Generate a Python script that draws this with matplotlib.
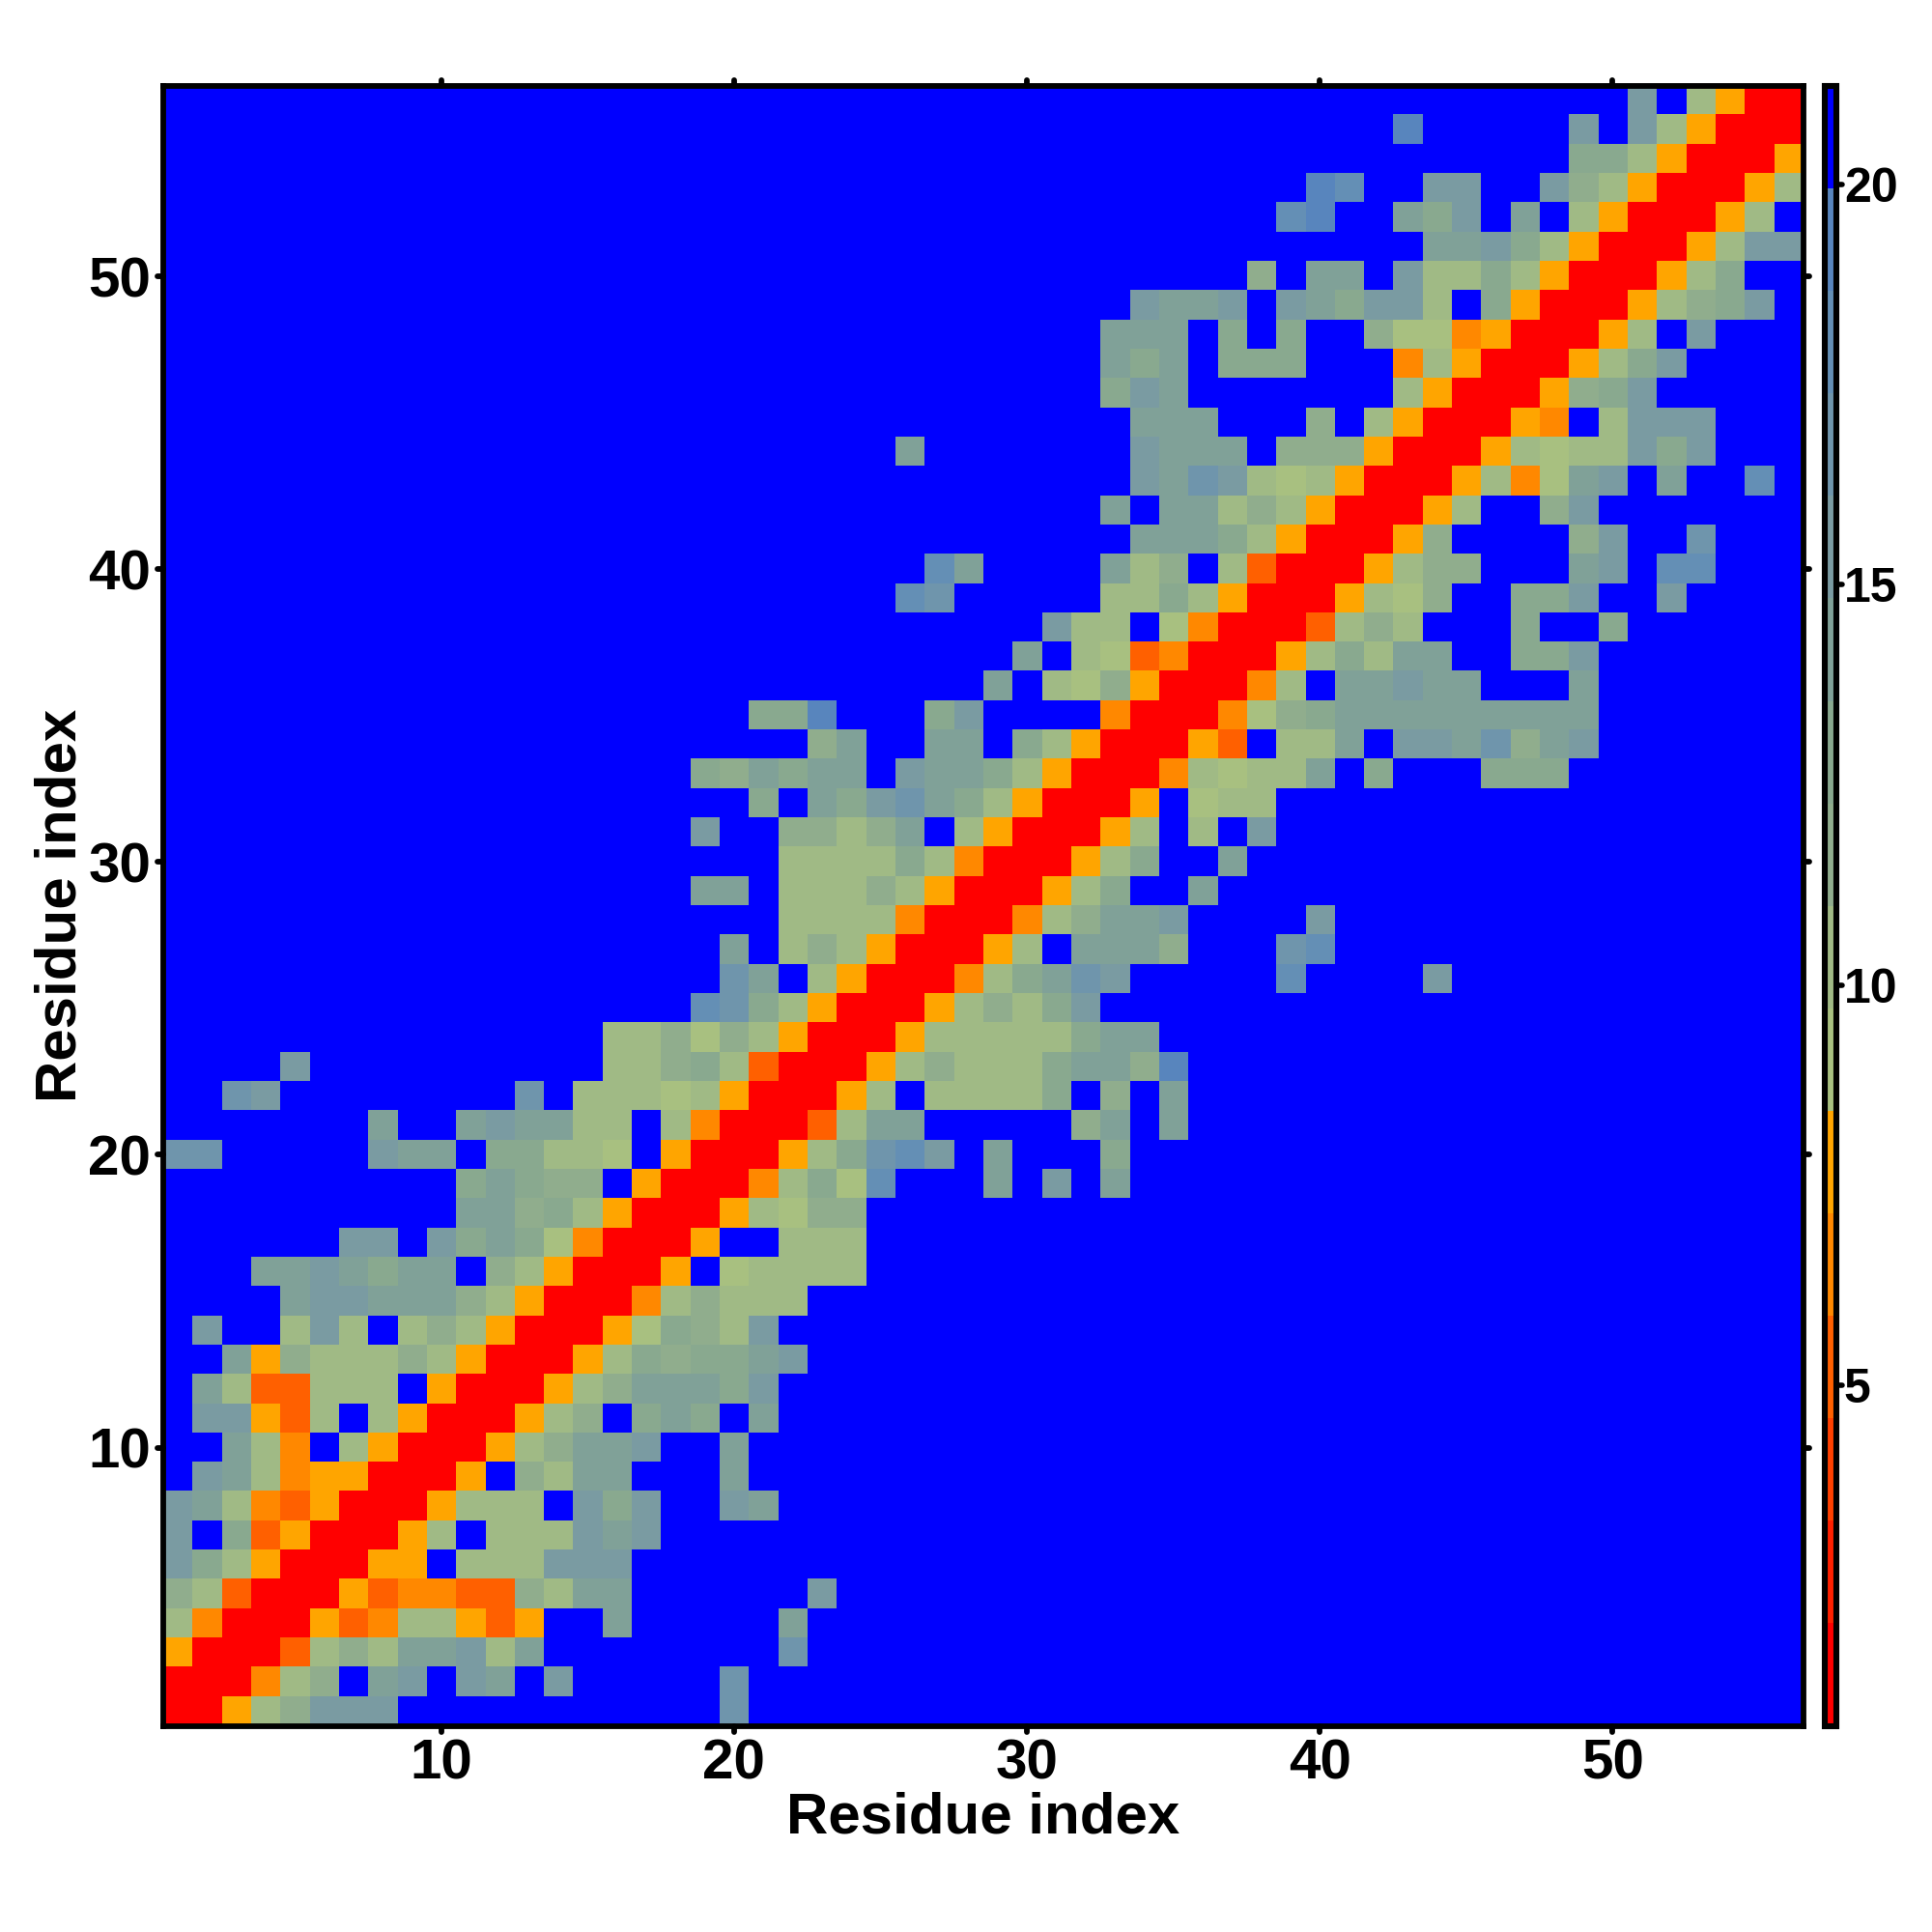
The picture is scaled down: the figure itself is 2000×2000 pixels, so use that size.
import numpy as np
import matplotlib
matplotlib.use("Agg")
import matplotlib.pyplot as plt
from matplotlib.colors import ListedColormap, BoundaryNorm
from matplotlib.markers import MarkerStyle, TICKDOWN, TICKUP, TICKLEFT, TICKRIGHT

plt.rcParams['font.family'] = ['Liberation Sans', 'DejaVu Sans']
plt.rcParams['font.weight'] = 'bold'

N_RES = 56

# colour bar levels, 16 bands
levels = [0.75, 2.03, 3.31, 4.59, 5.87, 7.15, 8.43, 9.71, 10.99, 12.27, 13.55, 14.83, 16.11, 17.39, 18.67, 19.95, 21.23]
band_colors = ['#ff0000', '#ff2000', '#ff4000', '#ff6000', '#ff8800', '#ffa500',
               '#a8c080', '#a0ba85', '#90ad8d', '#89a98f', '#80a198', '#7a9ba2',
               '#6f95ac', '#648fb5', '#5885bd', '#0000ff']

# distance read per cell, letter = band of the colour bar
code_values = {'R': 1.4, 'E': 5.2, 'D': 6.5, 'O': 7.8, 'a': 9.1, 'b': 10.3, 'c': 11.6,
               'd': 12.9, 'e': 14.2, 'f': 15.5, 'g': 16.7, 'h': 18.0, 'i': 19.3, '.': 20.6}

# row number -> (first residue, letters); everything not listed is the blue band
rows = {
    1: [(1, "RRObcfff"), (20, "g")],
    2: [(1, "RRRDbc.ef.fe.f"), (20, "g")],
    3: [(1, "ORRREbcbeefbe"), (22, "g")],
    4: [(1, "bDRRROEDbbOEO"), (16, "e"), (22, "e")],
    5: [(1, "cbERRROEDDEEcbee"), (23, "f")],
    6: [(1, "fdbORRROO.bbbfff")],
    7: [(1, "f.dEORRROb.bbbfef")],
    8: [(1, "febDEORRRObbb.fdf"), (20, "fe")],
    9: [(2, "febDOORRRO.cbee"), (20, "e")],
    10: [(3, "ebD.bORRRObceef"), (20, "e")],
    11: [(2, "ffOEb.bORRRObc.ded"), (21, "e")],
    12: [(2, "ebEEbbb.ORRRObceeedf")],
    13: [(3, "eOcbbbcbORRRObdcddef")],
    14: [(2, "f"), (5, "bfb.bcbORRROadcbf")],
    15: [(5, "effeeecbORRRDbcbbb")],
    16: [(4, "eefedee.cbORRRO.abbbb")],
    17: [(7, "ff.fdedaDRRRO..bbb")],
    18: [(11, "eecdbORRRObacc")],
    19: [(11, "dedcc.ORRRDbdah"), (29, "e"), (31, "f"), (33, "e")],
    20: [(1, "gg"), (8, "fee.ddbba.ORRRObdghf.e"), (33, "d")],
    21: [(8, "e"), (11, "efeebb.bDRRREbee"), (32, "ce"), (35, "e")],
    22: [(3, "gf"), (13, "g"), (15, "bbbabORRROb.bbbbd.c.e")],
    23: [(5, "f"), (16, "bbcdbERRRObcbbbdeeci")],
    24: [(16, "bbcacbORRRObbbbbdee")],
    25: [(19, "hgdbORRRObcbdf")],
    26: [(20, "ge.bORRRDbdegf"), (39, "h"), (44, "f")],
    27: [(20, "e.bcbORRROb.eeec"), (39, "g"), (40, "h")],
    28: [(22, "bbbbDRRRDbceef"), (40, "f")],
    29: [(19, "ee.bbbcbORRRObd"), (36, "e")],
    30: [(22, "bbbbdbDRRRObd"), (37, "e")],
    31: [(19, "f"), (22, "ccbce.bORRROb.b.f")],
    32: [(21, "d.edfgedbORRRO.abb")],
    33: [(19, "dcedee.feedbORRRDbabbe.d"), (46, "ddd")],
    34: [(23, "ce"), (27, "ee"), (30, "dbORRROE.bbe.ffegcef")],
    35: [(21, "ddi"), (27, "df"), (33, "DRRRDacdeeeeeeeee")],
    36: [(29, "e"), (31, "bacORRRDb.eefee"), (49, "e")],
    37: [(30, "e"), (32, "baEDRRRObdbee"), (47, "ddf")],
    38: [(31, "fbb.aDRRREbcb"), (47, "d"), (50, "d")],
    39: [(26, "hg"), (33, "bbdbORRRObac"), (47, "ddf"), (52, "f")],
    40: [(27, "he"), (33, "ebc.bERRRObcc"), (49, "ef"), (52, "hh")],
    41: [(34, "eeedbORRROc"), (49, "cf"), (53, "g")],
    42: [(33, "e.eebcbORRROb"), (48, "cf")],
    43: [(34, "fegfbabORRRObDaef"), (52, "e"), (55, "h")],
    44: [(26, "e"), (34, "feee.cccORRRObabbfdf")],
    45: [(34, "eee"), (40, "c.bORRROD.bfff")],
    46: [(33, "dfe"), (43, "bORRROcdf")],
    47: [(33, "ede.ddd"), (43, "DbORRRObdf")],
    48: [(33, "eee.d.d"), (42, "caaDORRROb.f")],
    49: [(34, "feef.fedffb.dORRRObcdf")],
    50: [(38, "c"), (40, "ee.fbbdbORRRObd")],
    51: [(44, "eefdbORRRObff")],
    52: [(39, "hi"), (43, "edf.e.bORRROb")],
    53: [(40, "ih"), (44, "ff"), (48, "fcbORRROb")],
    54: [(49, "ddbORRRO")],
    55: [(43, "i"), (49, "f.fbORRR")],
    56: [(51, "f.bORR")],
}

ticks_main = [10, 20, 30, 40, 50]
ticks_bar = [5, 10, 15, 20]

# fill the matrix
dist = np.full((N_RES, N_RES), code_values['.'])
for r, parts in rows.items():
    for first, letters in parts:
        for k, ch in enumerate(letters):
            if first - 1 + k < N_RES:
                dist[r - 1, first - 1 + k] = code_values[ch]

cmap = ListedColormap(band_colors)
norm = BoundaryNorm(levels, cmap.N)

fig = plt.figure(figsize=(10, 10), dpi=200)
ax = fig.add_axes([168.7 / 2000, 1 - 1786.5 / 2000, 1697.8 / 2000, 1697.5 / 2000])
im = ax.imshow(dist, origin='lower', extent=(0.5, N_RES + 0.5, 0.5, N_RES + 0.5),
               cmap=cmap, norm=norm, aspect='auto', interpolation='nearest')

ax.set_xticks(ticks_main)
ax.set_yticks(ticks_main)
ax.tick_params(axis='both', which='major', length=2.2, width=2.1, top=True, right=True, labelsize=21)
ax.tick_params(axis='x', pad=2.5)
ax.tick_params(axis='y', pad=2.3)
for s in ax.spines.values():
    s.set_linewidth(2.1)

ax.set_xlabel('Residue index', fontsize=21.6, fontweight='bold', va='center')
ax.set_ylabel('Residue index', fontsize=21.6, fontweight='bold', va='center')
ax.xaxis.set_label_coords(0.5, -(1882 - 1786.5) / 1697.5)
ax.yaxis.set_label_coords(-(168.7 - 63) / 1697.8, 0.5)

# the original ticks have round ends
for t in ax.xaxis.get_major_ticks():
    t.tick1line.set_marker(MarkerStyle(TICKDOWN, capstyle='round'))
    t.tick2line.set_marker(MarkerStyle(TICKUP, capstyle='round'))
for t in ax.yaxis.get_major_ticks():
    t.tick1line.set_marker(MarkerStyle(TICKLEFT, capstyle='round'))
    t.tick2line.set_marker(MarkerStyle(TICKRIGHT, capstyle='round'))

cax = fig.add_axes([1889 / 2000, 1 - 1786.5 / 2000, 12 / 2000, 1697.5 / 2000])
cb = fig.colorbar(im, cax=cax, ticks=ticks_bar, spacing='proportional')
cb.outline.set_linewidth(2.2)
cb.ax.minorticks_off()
cb.ax.tick_params(length=2.0, width=2.0, labelsize=18, pad=0.8)
for t in cb.ax.yaxis.get_major_ticks():
    t.tick2line.set_marker(MarkerStyle(TICKRIGHT, capstyle='round'))

fig.savefig('out.png', dpi=200)
